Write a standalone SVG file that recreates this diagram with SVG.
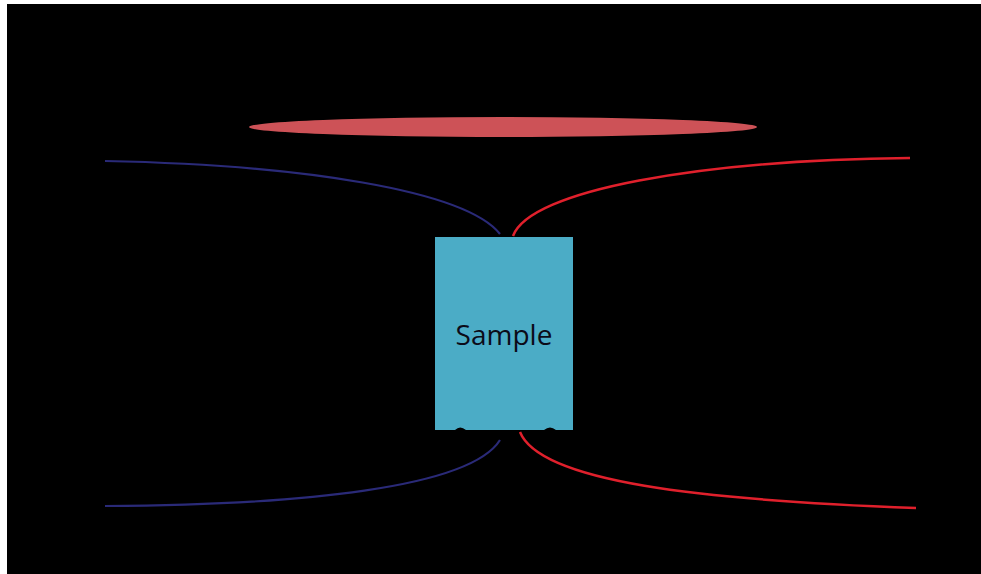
<svg xmlns="http://www.w3.org/2000/svg" width="981" height="574" viewBox="0 0 981 574">
<style>
.blue{fill:none;stroke:#2a2a78;stroke-width:2.2}
.red{fill:none;stroke:#e0202c;stroke-width:2.5}
.lbl{font-family:"Open Sans","Liberation Sans",sans-serif;font-size:28px;fill:#0b0b18}
</style>
<rect x="0" y="0" width="981" height="574" fill="#ffffff"/>
<rect x="7" y="4" width="974" height="570" fill="#000000"/>
<g id="lens">
<ellipse cx="503" cy="127" rx="254" ry="10" fill="#cd5257"/>
</g>
<g id="connectors">
<path class="blue" d="M105,161 C300,165 465,190 500,234"/>
<path class="blue" d="M105,506 C300,505 470,488 500,440"/>
<path class="red" d="M513,236 C530,190 700,160 910,158"/>
<path class="red" d="M520,432 C540,482 700,500 916,508"/>
</g>
<g id="sample">
<rect x="435" y="237" width="138" height="193" fill="#4bacc6"/>
<text class="lbl" x="504" y="345" text-anchor="middle">Sample</text>
<path d="M455,430 Q460,425 466,430 Z M544,430 Q550,425 556,430 Z" fill="#000000"/>
</g>
</svg>
